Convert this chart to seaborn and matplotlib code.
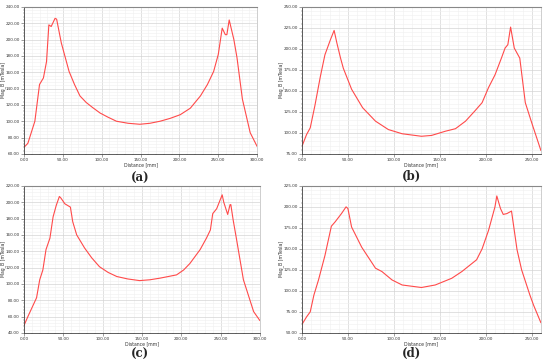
import pandas as pd
import seaborn as sns
import matplotlib.pyplot as plt
from matplotlib.ticker import MultipleLocator, FormatStrFormatter

# panel (a)
dist_a = [0, 5, 14, 20, 25, 29, 32, 35, 37, 40, 42, 48, 58, 65, 72, 80, 88, 98, 108, 119, 134,
          149, 162, 175, 188, 201, 214, 227, 236, 244, 250, 255, 259, 261, 264, 270, 274, 281,
          291, 300]
mag_a = [68, 73, 100, 145, 153, 173, 218, 216, 220, 226, 225, 196, 161, 145, 131, 123, 117,
         110, 105, 100, 97.5, 96.3, 97.5, 100, 103.5, 108, 116, 131, 145, 161, 182, 214, 206,
         206, 224, 200, 178, 127, 86, 69]

# panel (b)
dist_b = [0, 5, 9, 14, 20, 25, 31, 35, 38, 42, 45, 54, 66, 80, 94, 109, 130, 141, 156, 167,
          178, 188, 196, 203, 210, 217, 221, 224, 227, 231, 237, 243, 250, 260]
mag_b = [84, 98, 106, 132, 167, 193, 211, 222, 207, 189, 177, 152, 130, 114, 104, 99, 96, 97,
         102, 105, 114, 126, 136, 154, 169, 189, 201, 205, 226, 201, 189, 136, 112, 79]

# panel (c)
dist_c = [0, 5, 16, 20, 24, 28, 33, 37, 41, 45, 47, 52, 59, 62, 67, 77, 86, 96, 107, 118, 132,
          147, 160, 173, 194, 203, 211, 224, 232, 237, 240, 245, 252, 254, 259, 262, 263, 266,
          270, 279, 283, 292, 300]
mag_c = [49, 60, 83, 105, 117, 142, 156, 182, 196, 207, 205, 198, 194, 176, 160, 144, 132, 121,
         114, 109, 106, 104, 105, 107, 111, 117, 125, 142, 156, 166, 186, 192, 209, 200, 185,
         197, 197, 178, 156, 105, 93, 66, 55]

# panel (d)
dist_d = [0, 5, 9, 13, 18, 25, 32, 36, 43, 48, 50, 54, 65, 80, 87, 98, 109, 130, 145, 163,
          174, 190, 196, 203, 210, 212, 216, 219, 223, 228, 234, 239, 248, 252, 260]
mag_d = [60, 69, 75, 95, 113, 142, 177, 182, 192, 200, 198, 176, 152, 127, 123, 113, 107, 104,
         107, 115, 123, 137, 150, 172, 200, 213, 198, 191, 192, 195, 149, 125, 95, 83, 62]

panels = [
    ("(a)", dist_a, mag_a, (0, 300), (60, 240), 50, 20),
    ("(b)", dist_b, mag_b, (0, 260), (75, 250), 50, 25),
    ("(c)", dist_c, mag_c, (0, 300), (40, 220), 50, 20),
    ("(d)", dist_d, mag_d, (0, 260), (50, 225), 50, 25),
]

# axes boxes in figure fractions (left, bottom, width, height)
boxes = [
    (0.0436, 0.576, 0.424, 0.405),
    (0.549, 0.576, 0.4345, 0.405),
    (0.0436, 0.083, 0.429, 0.405),
    (0.549, 0.083, 0.4345, 0.405),
]
label_pos = [(0.255, 0.508), (0.749, 0.514), (0.255, 0.024), (0.749, 0.026)]

sns.set_style("white")
fig = plt.figure(figsize=(5.5, 3.63), dpi=100)

for (tag, x, y, xlim, ylim, xstep, ystep), box, lp in zip(panels, boxes, label_pos):
    ax = fig.add_axes(box)
    df = pd.DataFrame({"Distance": x, "Mag_B": y})
    sns.lineplot(data=df, x="Distance", y="Mag_B", ax=ax, color="#ff4a4a", linewidth=0.8)
    ax.set_xlim(*xlim)
    ax.set_ylim(*ylim)
    ax.xaxis.set_major_locator(MultipleLocator(xstep))
    ax.xaxis.set_minor_locator(MultipleLocator(xstep / 5))
    ax.yaxis.set_major_locator(MultipleLocator(ystep))
    ax.yaxis.set_minor_locator(MultipleLocator(ystep / 5))
    ax.xaxis.set_major_formatter(FormatStrFormatter("%.2f"))
    ax.yaxis.set_major_formatter(FormatStrFormatter("%.2f"))
    ax.grid(which="major", color="#d4d4d4", linewidth=0.5)
    ax.grid(which="minor", color="#f0f0f0", linewidth=0.4)
    ax.tick_params(which="major", labelsize=3.0, length=2, width=0.4, colors="#555555",
                   labelcolor="#333333", pad=1, direction="out")
    ax.tick_params(which="minor", length=1, width=0.3, colors="#555555")
    ax.tick_params(left=True, bottom=True)
    ax.tick_params(which="minor", left=True, bottom=True)
    for side in ["left", "bottom"]:
        ax.spines[side].set_color("#444444")
        ax.spines[side].set_linewidth(0.6)
    ax.spines["top"].set_color("#888888")
    ax.spines["top"].set_linewidth(0.8)
    ax.spines["right"].set_color("#bbbbbb")
    ax.spines["right"].set_linewidth(0.5)
    ax.set_xlabel("Distance [mm]", fontsize=3.3, labelpad=0.5, color="#333333")
    ax.set_ylabel("Mag_B [mTesla]", fontsize=3.3, color="#333333")
    # keep the y label a fixed 18 px left of the axis
    ax.yaxis.set_label_coords(-18 / (box[2] * 550), 0.5)
    fig.text(lp[0], lp[1], tag, ha="center", va="center", fontsize=8.5, fontweight="bold",
             family="DejaVu Serif")

plt.savefig("out.png", dpi=100)
plt.close()
